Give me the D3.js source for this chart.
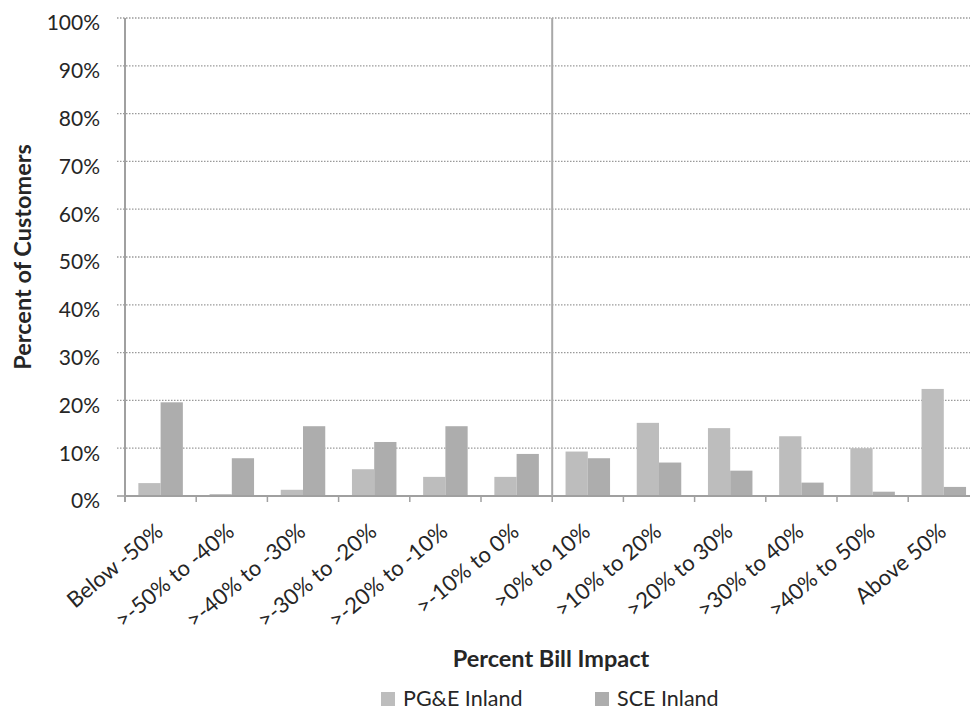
<!DOCTYPE html>
<html>
<head>
<meta charset="utf-8">
<script src="https://cdn.jsdelivr.net/npm/d3@7"></script>
<style>
  html, body { margin: 0; padding: 0; background: #fff; overflow: hidden; }
  svg { display: block; }
  text { font-family: Lato, "Open Sans", sans-serif; fill: #262626; }
</style>
</head>
<body>
<svg id="chart" width="970" height="713"></svg>
<script>
// Bill impact bins
const categories = [
  "Below -50%", ">-50% to -40%", ">-40% to -30%", ">-30% to -20%",
  ">-20% to -10%", ">-10% to 0%", ">0% to 10%", ">10% to 20%",
  ">20% to 30%", ">30% to 40%", ">40% to 50%", "Above 50%"
];
const seriesNames = ["PG&E Inland", "SCE Inland"];
// Share of customers in each bin (fraction)
const pgeInland = [0.027, 0.004, 0.013, 0.056, 0.040, 0.040, 0.093, 0.153, 0.142, 0.125, 0.100, 0.224];
const sceInland = [0.196, 0.079, 0.146, 0.113, 0.146, 0.088, 0.079, 0.070, 0.053, 0.028, 0.009, 0.019];
const yTicks = [0, 0.1, 0.2, 0.3, 0.4, 0.5, 0.6, 0.7, 0.8, 0.9, 1.0];

const colors = { "PG&E Inland": "#bdbdbd", "SCE Inland": "#adadad" };

const svg = d3.select("#chart");
const plotL = 125, plotT = 18;
const plotR = 125 + 12 * 71.2, plotB = 496;

const x0 = d3.scaleBand().domain(categories).range([plotL, plotR]).padding(0);
const x1 = d3.scaleBand().domain(seriesNames).range([0, x0.bandwidth()])
  .paddingInner(0).paddingOuter(0.6);
const y = d3.scaleLinear().domain([0, 1]).range([plotB, plotT]);

// Dotted horizontal gridlines with short outward ticks
svg.append("g").selectAll("line").data(yTicks).join("line")
  .attr("x1", plotL - 8).attr("x2", plotR)
  .attr("y1", d => y(d)).attr("y2", d => y(d))
  .attr("stroke", "#9a9a9a").attr("stroke-width", 1.3)
  .attr("stroke-dasharray", d => d === 0 ? null : "1.5,1.5");

// Y tick labels
svg.append("g").selectAll("text").data(yTicks).join("text")
  .attr("x", 100).attr("y", d => y(d) + 5)
  .attr("dy", "0.35em")
  .attr("text-anchor", "end")
  .style("font-size", "21px")
  .text(d => d3.format(".0%")(d));

// Bars
const rows = categories.map((c, i) => ({ cat: c, values: [
  { key: "PG&E Inland", v: pgeInland[i] },
  { key: "SCE Inland", v: sceInland[i] }
]}));
svg.append("g").selectAll("g").data(rows).join("g")
  .attr("transform", d => `translate(${x0(d.cat)},0)`)
  .selectAll("rect").data(d => d.values).join("rect")
  .attr("x", d => x1(d.key))
  .attr("width", x1.bandwidth())
  .attr("y", d => y(d.v))
  .attr("height", d => y(0) - y(d.v))
  .attr("fill", d => colors[d.key]);

// Axis lines
svg.append("line")
  .attr("x1", plotL).attr("x2", plotL).attr("y1", plotT).attr("y2", plotB + 6)
  .attr("stroke", "#a0a0a0").attr("stroke-width", 2);
svg.append("line")
  .attr("x1", plotL).attr("x2", plotR).attr("y1", plotB).attr("y2", plotB)
  .attr("stroke", "#a0a0a0").attr("stroke-width", 2);
// Divider between bill decreases and increases
svg.append("line")
  .attr("x1", x0(">0% to 10%")).attr("x2", x0(">0% to 10%"))
  .attr("y1", plotT).attr("y2", plotB)
  .attr("stroke", "#a8a8a8").attr("stroke-width", 2);

// Category tick marks at band edges
const edges = categories.map(c => x0(c)).concat([plotR]);
svg.append("g").selectAll("line").data(edges).join("line")
  .attr("x1", d => d).attr("x2", d => d)
  .attr("y1", plotB).attr("y2", plotB + 6)
  .attr("stroke", "#a0a0a0").attr("stroke-width", 1.5);

// Rotated category labels
svg.append("g").selectAll("text").data(categories).join("text")
  .attr("transform", d => `translate(${x0(d) + x0.bandwidth() / 2 - 1},${plotB + 32}) rotate(-40)`)
  .attr("text-anchor", "end")
  .attr("dy", "0.35em")
  .style("font-size", "22px")
  .text(d => d);

// Axis titles
svg.append("text")
  .attr("x", 551).attr("y", 667)
  .attr("text-anchor", "middle")
  .style("font-size", "23.5px").style("font-weight", "bold")
  .text("Percent Bill Impact");
svg.append("text")
  .attr("transform", "translate(31,257) rotate(-90)")
  .attr("text-anchor", "middle")
  .style("font-size", "23.5px").style("font-weight", "bold")
  .text("Percent of Customers");

// Legend
const legendPos = [381, 595];
const lg = svg.append("g").selectAll("g").data(seriesNames).join("g")
  .attr("transform", (d, i) => `translate(${legendPos[i]},692)`);
lg.append("rect").attr("width", 14).attr("height", 14)
  .attr("fill", d => colors[d]);
lg.append("text").attr("x", 22).attr("y", 14)
  .style("font-size", "21.5px")
  .text(d => d);
</script>
</body>
</html>
